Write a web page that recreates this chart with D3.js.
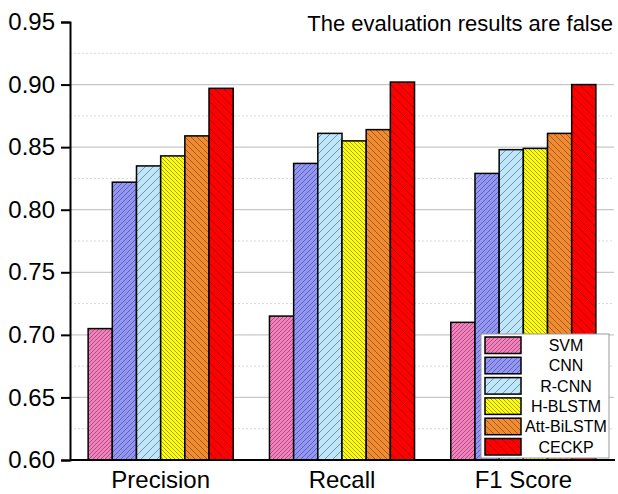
<!DOCTYPE html>
<html><head><meta charset="utf-8">
<script src="https://cdn.jsdelivr.net/npm/d3@7"></script>
<style>body{margin:0;background:#fff}svg{display:block;font-family:Arial,"Liberation Sans",sans-serif}</style>
</head><body><svg id="c" width="618" height="494"></svg>
<script>
const categories = ["Precision","Recall","F1 Score"];
const models = ["SVM","CNN","R-CNN","H-BLSTM","Att-BiLSTM","CECKP"];
const SVM = [0.705,0.715,0.710];
const CNN = [0.822,0.837,0.829];
const RCNN = [0.835,0.861,0.848];
const HBLSTM = [0.843,0.855,0.849];
const AttBiLSTM = [0.859,0.864,0.861];
const CECKP = [0.897,0.902,0.900];
const series = [SVM,CNN,RCNN,HBLSTM,AttBiLSTM,CECKP];
const yTicks = [0.60,0.65,0.70,0.75,0.80,0.85,0.90,0.95];
const title = "The evaluation results are false";

const colors = ["#F77FBE","#9296F8","#BDE6FA","#FFFF00","#F28A30","#FF0000"];
const hatchDir = [1,1,1,-1,-1,-1];
const hatchGap = [4,5,8,4,6,9];

const svg = d3.select("#c");
const m = {l:70, r:614, t:22, b:460};
const x = d3.scaleBand().domain(categories).range([m.l,m.r]).paddingInner(0.2).paddingOuter(0.1);
const xs = d3.scaleBand().domain(models).range([0,x.bandwidth()]);
const y = d3.scaleLinear().domain([0.6,0.95]).range([m.b,m.t]);

const defs = svg.append("defs");
models.forEach((mod,i)=>{
  const s = hatchGap[i];
  const p = defs.append("pattern").attr("id","p"+i).attr("patternUnits","userSpaceOnUse")
    .attr("width",s).attr("height",s);
  p.append("rect").attr("width",s).attr("height",s).attr("fill",colors[i]);
  const d = hatchDir[i]>0
    ? `M0,${s} L${s},0 M${-s/2},${s/2} L${s/2},${-s/2} M${s/2},${s*1.5} L${s*1.5},${s/2}`
    : `M0,0 L${s},${s} M${-s/2},${s/2} L${s/2},${s*1.5} M${s/2},${-s/2} L${s*1.5},${s/2}`;
  p.append("path").attr("d",d).attr("stroke","#222").attr("stroke-opacity",0.6).attr("stroke-width",0.7);
});

// grid
const minor = d3.range(0.625,0.95,0.05);
svg.append("g").selectAll("line").data(minor).join("line")
  .attr("x1",m.l).attr("x2",m.r).attr("y1",d=>y(d)).attr("y2",d=>y(d))
  .attr("stroke","#d8d8d8").attr("stroke-dasharray","2,2").attr("stroke-width",1);
svg.append("g").selectAll("line").data(yTicks.slice(1,-1)).join("line")
  .attr("x1",m.l).attr("x2",m.r).attr("y1",d=>y(d)).attr("y2",d=>y(d))
  .attr("stroke","#c8c8c8").attr("stroke-width",1.2);

// bars
categories.forEach((c,ci)=>{
  models.forEach((mod,i)=>{
    const v = series[i][ci];
    svg.append("rect").attr("x",x(c)+xs(mod)).attr("y",y(v))
      .attr("width",xs.bandwidth()).attr("height",y(0.6)-y(v))
      .attr("fill","url(#p"+i+")").attr("stroke","#000").attr("stroke-width",1.5);
  });
});

// axes
const ya = svg.append("g").attr("transform",`translate(${m.l},0)`)
  .call(d3.axisLeft(y).tickValues(yTicks).tickFormat(d3.format(".2f")).tickSize(9).tickPadding(6));
ya.select(".domain").attr("stroke-width",2);
ya.selectAll(".tick line").attr("stroke-width",2);
ya.selectAll("text").attr("font-size",24).attr("font-family","Arial,'Liberation Sans',sans-serif").attr("fill","#000");

const xa = svg.append("g").attr("transform",`translate(0,${m.b})`)
  .call(d3.axisBottom(x).tickSize(0).tickPadding(10));
xa.select(".domain").attr("stroke-width",2).attr("d",`M${m.l},0H${m.r+1}`);
xa.selectAll("text").attr("font-size",24).attr("font-family","Arial,'Liberation Sans',sans-serif").attr("fill","#000").attr("dy","0.75em");

// title
svg.append("text").attr("x",613).attr("y",31).attr("text-anchor","end")
  .attr("font-size",22).attr("fill","#000").text(title);

// legend
const lg = svg.append("g");
lg.append("rect").attr("x",481).attr("y",334).attr("width",128).attr("height",124)
  .attr("fill","#fff").attr("stroke","#999").attr("stroke-width",1);
models.forEach((mod,i)=>{
  const yy = 337 + i*20.3;
  lg.append("rect").attr("x",485).attr("y",yy).attr("width",36).attr("height",16.5)
    .attr("fill","url(#p"+i+")").attr("stroke","#000").attr("stroke-width",1.5);
  lg.append("text").attr("x",566).attr("y",yy+8.5).attr("dy","0.35em").attr("text-anchor","middle")
    .attr("font-size",16).attr("fill","#000").text(mod);
});
</script></body></html>
